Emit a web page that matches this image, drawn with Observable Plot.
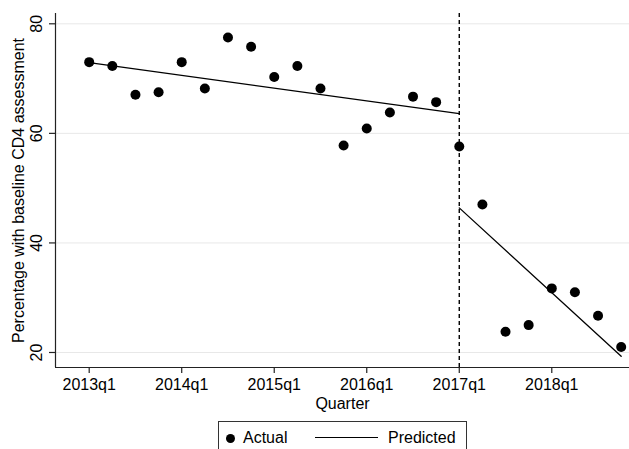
<!DOCTYPE html>
<html>
<head>
<meta charset="utf-8">
<script src="https://cdn.jsdelivr.net/npm/d3@7"></script>
<script src="https://cdn.jsdelivr.net/npm/@observablehq/plot@0.6"></script>
<style>
  body { margin: 0; background: #fff; font-family: "Liberation Sans", Arial, Helvetica, sans-serif; }
  #wrap { position: relative; width: 629px; height: 449px; overflow: hidden; }
  #legend { position: absolute; left: 218px; top: 421px; width: 249px; height: 40px; border: 1px solid #333; box-sizing: border-box; font-size: 16px; color: #000; }
  #legend .dot { position: absolute; left: 7px; top: 12px; width: 9px; height: 9px; border-radius: 50%; background: #000; }
  #legend .t1 { position: absolute; left: 24px; top: 7px; line-height: 18px; }
  #legend .ln { position: absolute; left: 96px; top: 15px; width: 63px; border-top: 1.3px solid #000; }
  #legend .t2 { position: absolute; left: 169px; top: 7px; line-height: 18px; }
</style>
</head>
<body>
<div id="wrap">
  <div id="chart"></div>
  <div id="legend"><span class="dot"></span><span class="t1">Actual</span><span class="ln"></span><span class="t2">Predicted</span></div>
</div>
<script>
// Quarters indexed 0 = 2013q1 ... 23 = 2018q4
const actualValues = [73.0, 72.3, 67.05, 67.5, 73.0, 68.2, 77.5, 75.8, 70.3, 72.3, 68.2, 57.8,
                      60.9, 63.8, 66.7, 65.7, 57.6, 47.0, 23.8, 25.0, 31.7, 31.0, 26.7, 21.0];
const predQuarter = [0, 16, 16, 23];
const predValue = [72.9, 63.6, 46.4, 19.3];
const predSegment = ["pre", "pre", "post", "post"];
const interruptionQuarter = 16;
const xTickPositions = [0, 4, 8, 12, 16, 20];
const xTickLabels = ["2013q1", "2014q1", "2015q1", "2016q1", "2017q1", "2018q1"];
const yTicks = [20, 40, 60, 80];
const yTitle = "Percentage with baseline CD4 assessment";
const xTitle = "Quarter";

const actual = actualValues.map((v, i) => ({q: i, v}));
const pred = predQuarter.map((q, i) => ({q, v: predValue[i], s: predSegment[i]}));

const xDomain = [-1.457, 23.36];
const yDomain = [17.26, 81.88];

const chart = Plot.plot({
  width: 629,
  height: 415,
  marginLeft: 55,
  marginRight: 0,
  marginTop: 13,
  marginBottom: 48,
  style: {fontFamily: "'Liberation Sans', Arial, Helvetica, sans-serif", fontSize: "16px", background: "#fff", overflow: "visible"},
  x: {type: "linear", domain: xDomain, axis: null},
  y: {type: "linear", domain: yDomain, axis: null},
  marks: [
    Plot.gridY(yTicks, {stroke: "#e8e8e8", strokeOpacity: 1, strokeWidth: 1}),
    Plot.ruleX([interruptionQuarter], {stroke: "#000", strokeWidth: 1.4, strokeDasharray: "4,3"}),
    Plot.line(pred, {x: "q", y: "v", z: "s", stroke: "#000", strokeWidth: 1.3}),
    Plot.dot(actual, {x: "q", y: "v", r: 5, fill: "#000", stroke: "none"}),
    // axis lines
    Plot.ruleX([xDomain[0]], {stroke: "#222", strokeWidth: 1.2}),
    Plot.ruleY([yDomain[0]], {stroke: "#222", strokeWidth: 1.2}),
    // y ticks
    Plot.axisY(yTicks, {tickSize: 6, tickFormat: () => "", stroke: "#222", strokeWidth: 1.2, label: null}),
    Plot.text(yTicks, {y: d => d, frameAnchor: "left", text: d => String(d), rotate: -90, dx: -19, textAnchor: "middle", lineAnchor: "middle", fill: "#000", fontSize: 16}),
    Plot.text([yTitle], {frameAnchor: "left", rotate: -90, dx: -37, textAnchor: "middle", lineAnchor: "middle", fill: "#000", fontSize: 16}),
    // x ticks
    Plot.axisX(xTickPositions, {tickSize: 6, tickPadding: 5, tickFormat: (d, i) => xTickLabels[i], stroke: "#222", strokeWidth: 1.2, fill: "#000", fontSize: 16, label: null}),
    Plot.text([xTitle], {frameAnchor: "bottom", dy: 36, textAnchor: "middle", lineAnchor: "middle", fill: "#000", fontSize: 16})
  ]
});
document.getElementById("chart").appendChild(chart);
</script>
</body>
</html>
